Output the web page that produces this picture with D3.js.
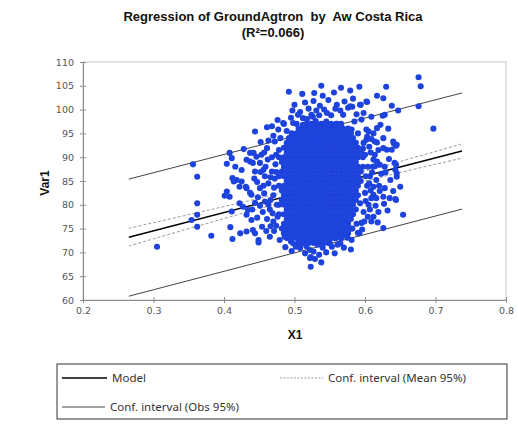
<!DOCTYPE html>
<html><head><meta charset="utf-8">
<script src="https://cdn.jsdelivr.net/npm/d3@7/dist/d3.min.js"></script>
<style>body{margin:0;background:#fff}svg{display:block}</style>
</head><body>
<svg id="c" width="518" height="425"></svg>
<script>
const xTicks=[0.2,0.3,0.4,0.5,0.6,0.7,0.8];
const yTicks=[60,65,70,75,80,85,90,95,100,105,110];
const modelX=[0.265,0.7376];
const modelY=[73.2,91.3];
const obsUpper=[85.4,103.5];
const obsLower=[60.8,79.1];
const ciX=[0.265,0.356,0.45,0.54,0.64,0.7376];
const ciHalf=[1.86,1.44,1.10,0.98,1.13,1.5];
// dense core rows: [Var1, list of X1]
const coreRows=[
[97,[0.517,0.524,0.531,0.538,0.545,0.552,0.559,0.566]],
[96,[0.506,0.513,0.520,0.527,0.534,0.541,0.548,0.555,0.562,0.569,0.576]],
[95,[0.496,0.503,0.510,0.517,0.524,0.531,0.538,0.545,0.552,0.559,0.566,0.573,0.580]],
[94,[0.492,0.499,0.506,0.513,0.520,0.527,0.534,0.541,0.548,0.555,0.562,0.569,0.576,0.583]],
[93,[0.489,0.496,0.503,0.510,0.517,0.524,0.531,0.538,0.545,0.552,0.559,0.566,0.573,0.580,0.587]],
[92,[0.485,0.492,0.499,0.506,0.513,0.520,0.527,0.534,0.541,0.548,0.555,0.562,0.569,0.576,0.583,0.590]],
[91,[0.489,0.496,0.503,0.510,0.517,0.524,0.531,0.538,0.545,0.552,0.559,0.566,0.573,0.580,0.587,0.594]],
[90,[0.478,0.485,0.492,0.499,0.506,0.513,0.520,0.527,0.534,0.541,0.548,0.555,0.562,0.569,0.576,0.583,0.590,0.597]],
[89,[0.482,0.489,0.496,0.503,0.510,0.517,0.524,0.531,0.538,0.545,0.552,0.559,0.566,0.573,0.580,0.587]],
[88,[0.485,0.492,0.499,0.506,0.513,0.520,0.527,0.534,0.541,0.548,0.555,0.562,0.569,0.576,0.583,0.590,0.597]],
[87,[0.482,0.489,0.496,0.503,0.510,0.517,0.524,0.531,0.538,0.545,0.552,0.559,0.566,0.573,0.580,0.587,0.594]],
[86,[0.478,0.485,0.492,0.499,0.506,0.513,0.520,0.527,0.534,0.541,0.548,0.555,0.562,0.569,0.576,0.583,0.590]],
[85,[0.489,0.496,0.503,0.510,0.517,0.524,0.531,0.538,0.545,0.552,0.559,0.566,0.573,0.580,0.587,0.594]],
[84,[0.478,0.485,0.492,0.499,0.506,0.513,0.520,0.527,0.534,0.541,0.548,0.555,0.562,0.569,0.576,0.583,0.590]],
[83,[0.482,0.489,0.496,0.503,0.510,0.517,0.524,0.531,0.538,0.545,0.552,0.559,0.566,0.573,0.580,0.587]],
[82,[0.485,0.492,0.499,0.506,0.513,0.520,0.527,0.534,0.541,0.548,0.555,0.562,0.569,0.576,0.583,0.590]],
[81,[0.482,0.489,0.496,0.503,0.510,0.517,0.524,0.531,0.538,0.545,0.552,0.559,0.566,0.573,0.580,0.587]],
[80,[0.478,0.485,0.492,0.499,0.506,0.513,0.520,0.527,0.534,0.541,0.548,0.555,0.562,0.569,0.576,0.583]],
[79,[0.489,0.496,0.503,0.510,0.517,0.524,0.531,0.538,0.545,0.552,0.559,0.566,0.573,0.580,0.587]],
[78,[0.478,0.485,0.492,0.499,0.506,0.513,0.520,0.527,0.534,0.541,0.548,0.555,0.562,0.569,0.576,0.583]],
[77,[0.489,0.496,0.503,0.510,0.517,0.524,0.531,0.538,0.545,0.552,0.559,0.566,0.573,0.580]],
[76,[0.485,0.492,0.499,0.506,0.513,0.520,0.527,0.534,0.541,0.548,0.555,0.562,0.569,0.576]],
[75,[0.482,0.489,0.496,0.503,0.510,0.517,0.524,0.531,0.538,0.545,0.552,0.559,0.566,0.573,0.580]],
[74,[0.485,0.492,0.499,0.506,0.513,0.520,0.527,0.534,0.541,0.548,0.555,0.562,0.569,0.576]],
[73,[0.489,0.496,0.503,0.510,0.517,0.524,0.531,0.538,0.545,0.552,0.559,0.566]],
[72,[0.506,0.513,0.520,0.527,0.534,0.541,0.548]]
];
// scattered observations [X1, Var1]
const outerPts=[
[0.305,71.2],[0.356,88.5],[0.362,85.9],[0.362,80.3],[0.362,77.9],[0.354,76.8],[0.362,75.4],[0.382,73.5],
[0.404,88.6],[0.408,90.9],[0.411,89.8],[0.428,91.7],[0.442,90.9],[0.453,90.5],[0.404,82.8],[0.408,81.7],
[0.411,78.6],[0.409,75.3],[0.412,72.8],[0.418,85.2],[0.425,84.9],[0.422,83.8],[0.432,83.5],[0.422,80.3],
[0.423,74.0],[0.432,74.4],[0.416,88.0],[0.425,87.3],[0.437,89.1],[0.444,87.0],[0.439,82.1],[0.432,77.9],
[0.439,76.8],[0.444,74.0],[0.449,72.6],[0.444,95.4],[0.461,96.3],[0.485,97.0],[0.412,85.6],[0.414,84.9],
[0.449,72.1],[0.401,81.9],[0.437,90.9],[0.446,90.1],[0.441,88.8],[0.451,88.8],[0.432,89.45],[0.431,83.8],
[0.437,82.5],[0.444,80.4],[0.434,78.9],[0.441,74.7],[0.427,79.6],
[0.492,103.75],[0.511,103.3],[0.538,105.0],[0.540,102.9],[0.579,104.0],[0.592,104.8],[0.617,102.9],[0.603,101.6],
[0.594,101.0],[0.582,100.6],[0.576,100.4],[0.536,100.8],[0.542,100.0],[0.508,99.5],[0.526,98.5],[0.630,104.8],
[0.626,102.4],[0.638,100.8],[0.647,99.8],[0.676,106.8],[0.679,104.9],[0.676,100.7],[0.697,96.0],[0.628,98.9],
[0.625,98.7],[0.617,96.1],[0.640,93.3],[0.645,92.6],[0.631,91.55],[0.626,91.9],[0.614,93.3],[0.605,95.4],
[0.602,93.65],[0.595,97.9],[0.643,87.35],[0.645,85.9],[0.636,85.2],[0.643,81.2],[0.626,81.7],[0.612,83.8],
[0.609,81.4],[0.612,77.5],[0.654,77.9],[0.626,75.1],[0.592,74.0],[0.581,72.6],[0.565,71.9],[0.553,71.2],
[0.522,68.8],[0.523,67.0],[0.527,70.2],[0.508,70.9],[0.498,71.9],[0.479,72.6],[0.465,73.3],[0.454,75.4],
[0.458,80.7],[0.451,83.5],[0.456,87.35],[0.461,91.9],[0.472,93.3],[0.484,97.2],[0.477,95.8],[0.498,97.2],
[0.524,98.9],[0.560,101.0],[0.569,98.9],[0.579,100.7],[0.593,101.0],[0.602,101.7],[0.581,95.8],[0.650,83.8],
[0.626,94.0],[0.617,93.1],[0.641,92.8],[0.644,92.4],[0.638,91.55],[0.614,90.5],[0.612,89.5],[0.617,89.1],
[0.621,88.4],[0.628,88.0],[0.644,88.4],[0.614,88.1],[0.642,88.8],[0.645,86.6],[0.628,83.5],[0.621,82.9],
[0.612,82.1],[0.616,81.4],[0.640,82.9],[0.635,81.4],[0.644,81.0],
[0.486,73.3],[0.495,72.3],[0.502,71.2],[0.508,71.2],[0.522,70.5],[0.523,69.0],[0.533,71.6],[0.550,71.9],
[0.561,71.6],[0.575,73.1],[0.590,74.1],[0.595,76.2],[0.604,77.5],[0.593,80.3],
[0.462,89.5],[0.468,87.0],[0.463,84.5],[0.470,82.0],[0.465,79.0],[0.470,76.5],[0.474,90.5],[0.472,85.5],
[0.475,80.0],[0.476,77.5],[0.458,86.0],[0.455,78.5],[0.460,74.5],[0.466,81.0],[0.473,88.5],[0.478,91.5],
[0.480,94.0],[0.489,95.5],[0.471,74.5],
[0.495,98.3],[0.503,97.0],[0.512,96.8],[0.518,98.0],[0.530,97.6],[0.545,97.5],[0.552,98.8],[0.560,97.0],
[0.566,96.5],[0.573,95.5],[0.585,97.5],[0.590,95.0],[0.535,98.8],[0.515,101.5],[0.548,102.0],[0.528,103.5],
[0.565,99.8],[0.588,99.0],[0.500,101.0],
[0.598,93.0],[0.600,90.5],[0.604,88.0],[0.601,86.0],[0.606,84.5],[0.600,82.5],[0.598,78.5],[0.605,80.0],
[0.597,91.8],[0.608,91.0],[0.610,86.8],[0.603,94.3],[0.607,79.0],[0.599,76.5],[0.588,76.0],[0.582,75.0],
[0.512,72.6],[0.528,72.8],[0.540,71.0],[0.545,72.8],[0.557,73.0],[0.568,73.5],[0.517,71.3],[0.500,73.5],
[0.490,74.2],[0.535,69.5],[0.515,69.8],
[0.457,91.0],[0.463,93.5],[0.468,90.0],[0.459,88.0],[0.466,85.8],[0.471,83.6],[0.457,82.4],[0.463,80.0],
[0.469,78.2],[0.461,77.0],[0.474,75.6],[0.466,75.5],[0.451,79.8],[0.447,84.8],[0.452,86.9],[0.448,81.6],
[0.456,84.0],[0.474,86.9],[0.470,94.5],[0.476,97.8],[0.468,96.5],[0.452,93.2],[0.447,77.3],[0.443,85.5],
[0.440,79.0],
[0.602,95.8],[0.609,93.8],[0.612,95.0],[0.606,92.2],[0.619,91.5],[0.611,88.0],[0.623,86.5],[0.607,86.0],
[0.616,85.2],[0.603,84.0],[0.620,84.0],[0.608,83.0],[0.627,80.2],[0.615,79.8],[0.601,80.8],[0.619,78.5],
[0.609,76.5],[0.596,74.8],[0.618,76.3],[0.632,78.8],[0.629,86.8],[0.634,89.6],[0.622,96.8],[0.609,98.5],
[0.598,99.3],[0.633,96.0],
[0.505,98.9],[0.520,100.2],[0.531,99.8],[0.546,99.3],[0.558,100.2],[0.571,101.7],[0.556,103.6],[0.527,101.8],
[0.512,98.2],[0.583,102.3],[0.566,104.6],[0.497,99.8],
[0.496,70.3],[0.529,68.6],[0.545,70.0],[0.557,69.8],[0.570,71.0],[0.538,67.9],[0.487,71.1],[0.580,70.6]
];
const legendItems=["Model","Conf. interval (Mean 95%)","Conf. interval (Obs 95%)"];

const svg=d3.select("#c");
const x=d3.scaleLinear().domain([0.2,0.8]).range([83,506]);
const y=d3.scaleLinear().domain([60,110]).range([300,62]);

// title
const title=svg.append("g").attr("font-family","Liberation Sans, Arial, sans-serif").attr("font-weight","bold").attr("font-size",13).attr("fill","#111").attr("text-anchor","middle");
title.append("text").attr("x",273).attr("y",21).style("white-space","pre").text("Regression of GroundAgtron  by  Aw Costa Rica");
title.append("text").attr("x",273).attr("y",37).text("(R²=0.066)");

// plot frame
svg.append("rect").attr("x",x(0.2)).attr("y",y(110)).attr("width",x(0.8)-x(0.2)).attr("height",y(60)-y(110))
  .attr("fill","none").attr("stroke","#c8c8c8").attr("stroke-width",1);

// axes
const gx=svg.append("g").attr("transform",`translate(0,${y(60)})`)
  .call(d3.axisBottom(x).tickValues(xTicks).tickFormat(d3.format(".1f")).tickSize(3).tickPadding(4));
gx.selectAll(".tick line").attr("y1",-3).attr("y2",3);
const gy=svg.append("g").attr("transform",`translate(${x(0.2)},0)`)
  .call(d3.axisLeft(y).tickValues(yTicks).tickFormat(d3.format("d")).tickSize(3).tickPadding(6));
gy.selectAll(".tick line").attr("x1",3).attr("x2",-3);
[gx,gy].forEach(g=>{
  g.select(".domain").attr("stroke","#8c8c8c");
  g.selectAll(".tick line").attr("stroke","#8c8c8c");
  g.selectAll(".tick text").attr("font-family","DejaVu Sans, Verdana, sans-serif").attr("font-size",9.5).attr("fill","#555");
});

// axis titles
svg.append("text").attr("x",295).attr("y",339).attr("text-anchor","middle")
  .attr("font-family","Liberation Sans, Arial, sans-serif").attr("font-weight","bold").attr("font-size",12).attr("fill","#111").text("X1");
svg.append("text").attr("transform","translate(49,183) rotate(-90)").attr("text-anchor","middle")
  .attr("font-family","Liberation Sans, Arial, sans-serif").attr("font-weight","bold").attr("font-size",12).attr("fill","#111").text("Var1");

// regression lines
const line=d3.line().x(d=>x(d[0])).y(d=>y(d[1]));
const curve=d3.line().x(d=>x(d[0])).y(d=>y(d[1])).curve(d3.curveCatmullRom);
const slope=(modelY[1]-modelY[0])/(modelX[1]-modelX[0]);
const fit=v=>modelY[0]+slope*(v-modelX[0]);
svg.append("path").attr("d",curve(ciX.map((v,i)=>[v,fit(v)+ciHalf[i]]))).attr("fill","none").attr("stroke","#9a9a9a").attr("stroke-dasharray","3,2").attr("stroke-width",1);
svg.append("path").attr("d",curve(ciX.map((v,i)=>[v,fit(v)-ciHalf[i]]))).attr("fill","none").attr("stroke","#9a9a9a").attr("stroke-dasharray","3,2").attr("stroke-width",1);
svg.append("path").attr("d",line(modelX.map((v,i)=>[v,obsUpper[i]]))).attr("fill","none").attr("stroke","#444").attr("stroke-width",1);
svg.append("path").attr("d",line(modelX.map((v,i)=>[v,obsLower[i]]))).attr("fill","none").attr("stroke","#444").attr("stroke-width",1);
svg.append("path").attr("d",line(modelX.map((v,i)=>[v,modelY[i]]))).attr("fill","none").attr("stroke","#000").attr("stroke-width",1.5);

// points
const pts=[];
coreRows.forEach(([yy,xs])=>xs.forEach(xx=>pts.push([xx,yy])));
outerPts.forEach(p=>pts.push(p));
svg.append("g").selectAll("circle").data(pts).join("circle")
  .attr("cx",d=>x(d[0])).attr("cy",d=>y(d[1])).attr("r",3.05).attr("fill","#1d43dc");

// legend
const lg=svg.append("g").attr("font-family","Noto Sans, Open Sans, sans-serif").attr("font-size",11.5).attr("fill","#333");
lg.append("rect").attr("x",57).attr("y",364).attr("width",450).attr("height",55).attr("fill","#fff").attr("stroke","#333").attr("stroke-width",1);
lg.append("line").attr("x1",62).attr("x2",107).attr("y1",378).attr("y2",378).attr("stroke","#000").attr("stroke-width",1.3);
lg.append("text").attr("x",112).attr("y",382).text(legendItems[0]);
lg.append("line").attr("x1",280).attr("x2",323).attr("y1",378).attr("y2",378).attr("stroke","#9a9a9a").attr("stroke-dasharray","2,1.5");
lg.append("text").attr("x",328).attr("y",382).text(legendItems[1]);
lg.append("line").attr("x1",62).attr("x2",105).attr("y1",407).attr("y2",407).attr("stroke","#444");
lg.append("text").attr("x",110).attr("y",411).text(legendItems[2]);
</script>
</body></html>
